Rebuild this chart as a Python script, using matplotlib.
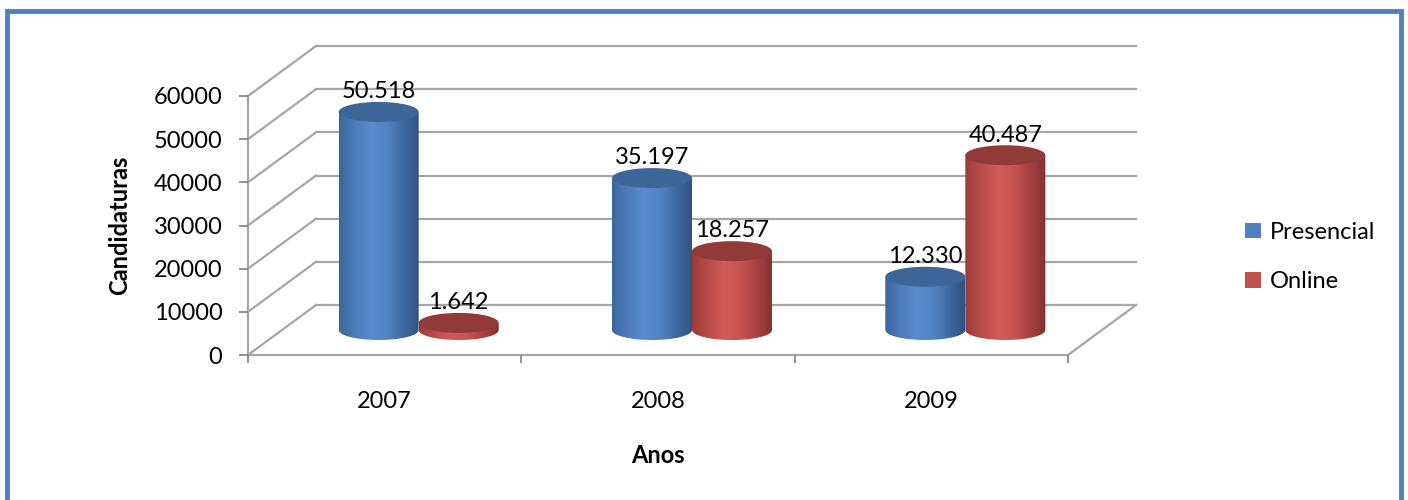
import numpy as np
import matplotlib
matplotlib.use("Agg")
import matplotlib.pyplot as plt
from matplotlib.patches import Ellipse, Rectangle, PathPatch, Patch
from matplotlib.path import Path
from matplotlib.colors import LinearSegmentedColormap

plt.rcParams['font.family'] = ['Lato', 'DejaVu Sans']

# ---- data ----
categories = ["2007", "2008", "2009"]
presencial = [50518, 35197, 12330]
online = [1642, 18257, 40487]
series_names = ["Presencial", "Online"]
yticks = [0, 10000, 20000, 30000, 40000, 50000, 60000]

W, H = 1408, 500
fig = plt.figure(figsize=(W / 100, H / 100), dpi=100)

# front plane of the 3D box in pixels
x0p, x1p = 248, 1068
y0p, y1p = 355, 96
ax = fig.add_axes([x0p / W, 1 - y0p / H, (x1p - x0p) / W, (y0p - y1p) / H])
ax.set_xlim(0, 3)
ax.set_ylim(0, 60000)
ax.patch.set_alpha(0)
for s in ax.spines.values():
    s.set_visible(False)

px_x = 3 / (x1p - x0p)        # data units per pixel (x)
px_y = 60000 / (y0p - y1p)    # data units per pixel (y)
dx = 68 * px_x                # depth offset
dy = 50 * px_y

grid_c = "#a6a6a6"
fs = 17
for v in yticks:
    ax.plot([0, dx], [v, v + dy], color=grid_c, lw=1.6, clip_on=False, zorder=1)
    ax.plot([dx, 3 + dx], [v + dy, v + dy], color=grid_c, lw=1.6, clip_on=False, zorder=1)
ax.plot([3, 3 + dx], [0, dy], color=grid_c, lw=1.6, clip_on=False, zorder=1)
ax.plot([0, 3], [0, 0], color=grid_c, lw=1.6, clip_on=False, zorder=1)
ax.plot([0, 0], [0, 60000], color=grid_c, lw=1.6, clip_on=False, zorder=1)

# ticks
ax.set_yticks(yticks)
ax.set_yticklabels([str(v) for v in yticks], fontsize=fs)
ax.tick_params(axis='y', length=6.5, width=1.2, color="#808080", pad=12)
ax.set_xticks([0, 1, 2, 3])
ax.set_xticklabels([])
ax.set_xticks([0.5, 1.5, 2.5], minor=True)
ax.set_xticklabels(categories, minor=True, fontsize=fs)
ax.tick_params(axis='x', which='major', length=6, width=1.2, color="#808080")
ax.tick_params(axis='x', which='minor', length=0, pad=26)

ax.set_ylabel("Candidaturas", fontsize=fs, fontweight='bold')
ax.yaxis.set_label_coords(-0.142, 0.5)
ax.set_xlabel("Anos", fontsize=fs, fontweight='bold')
ax.xaxis.set_label_coords(0.5, -0.345)

# cylinders
bw = 80 * px_x
eh = 20 * px_y
offsets = [-bw / 2, bw / 2]
cmaps = [
    LinearSegmentedColormap.from_list("b", ["#3c659b", "#4d7dbb", "#5a8bcd", "#5284c4", "#3f6aa0", "#2f5283"]),
    LinearSegmentedColormap.from_list("r", ["#9a3b39", "#bb4c4a", "#d05a57", "#c85452", "#a64240", "#83302e"]),
]
top_cols = ["#3d6698", "#923a38"]
grad = np.linspace(0, 1, 256).reshape(1, -1)

for si, vals in enumerate([presencial, online]):
    for i, v in enumerate(vals):
        xc = i + 0.5 + offsets[si] + dx / 2
        yb = dy / 2
        yt = v + dy / 2
        xl, xr = xc - bw / 2, xc + bw / 2
        t = np.linspace(np.pi, 2 * np.pi, 60)
        bx = xc + bw / 2 * np.cos(t)
        by = yb + eh / 2 * np.sin(t)
        verts = [(xl, yt)] + list(zip(bx, by)) + [(xr, yt), (xl, yt)]
        codes = [Path.MOVETO] + [Path.LINETO] * (len(verts) - 2) + [Path.CLOSEPOLY]
        body = PathPatch(Path(verts, codes), facecolor='none', edgecolor='none',
                         transform=ax.transData)
        ax.add_patch(body)
        im = ax.imshow(grad, cmap=cmaps[si], aspect='auto',
                       extent=[xl, xr, yb - eh / 2, yt], zorder=3 + si, clip_on=True)
        im.set_clip_path(body)
        ax.add_patch(Ellipse((xc, yt), bw, eh, facecolor=top_cols[si],
                             edgecolor='none', zorder=3.5 + si, clip_on=False))
        ax.annotate(f"{v:,}".replace(",", "."), (xc, yt), xytext=(0, 7),
                    textcoords='offset points', ha='center', va='bottom',
                    fontsize=fs, zorder=6, annotation_clip=False)

ax.set_xlim(0, 3)
ax.set_ylim(0, 60000)

# legend
handles = [Patch(facecolor="#4f81bd"), Patch(facecolor="#c0504d")]
fig.legend(handles, series_names, loc='center left',
           bbox_to_anchor=(1224 / W, 1 - 257 / H), frameon=False, fontsize=fs,
           handlelength=0.65, handleheight=0.65, handletextpad=0.4, labelspacing=1.2)

# outer border
fig.patches.append(Rectangle((6.5 / W, -0.1), (1401 - 6.5) / W, 1.1 - 11.5 / H,
                             transform=fig.transFigure, fill=False,
                             edgecolor="#4f81bd", lw=3.5))

fig.savefig("out.png", dpi=100)
